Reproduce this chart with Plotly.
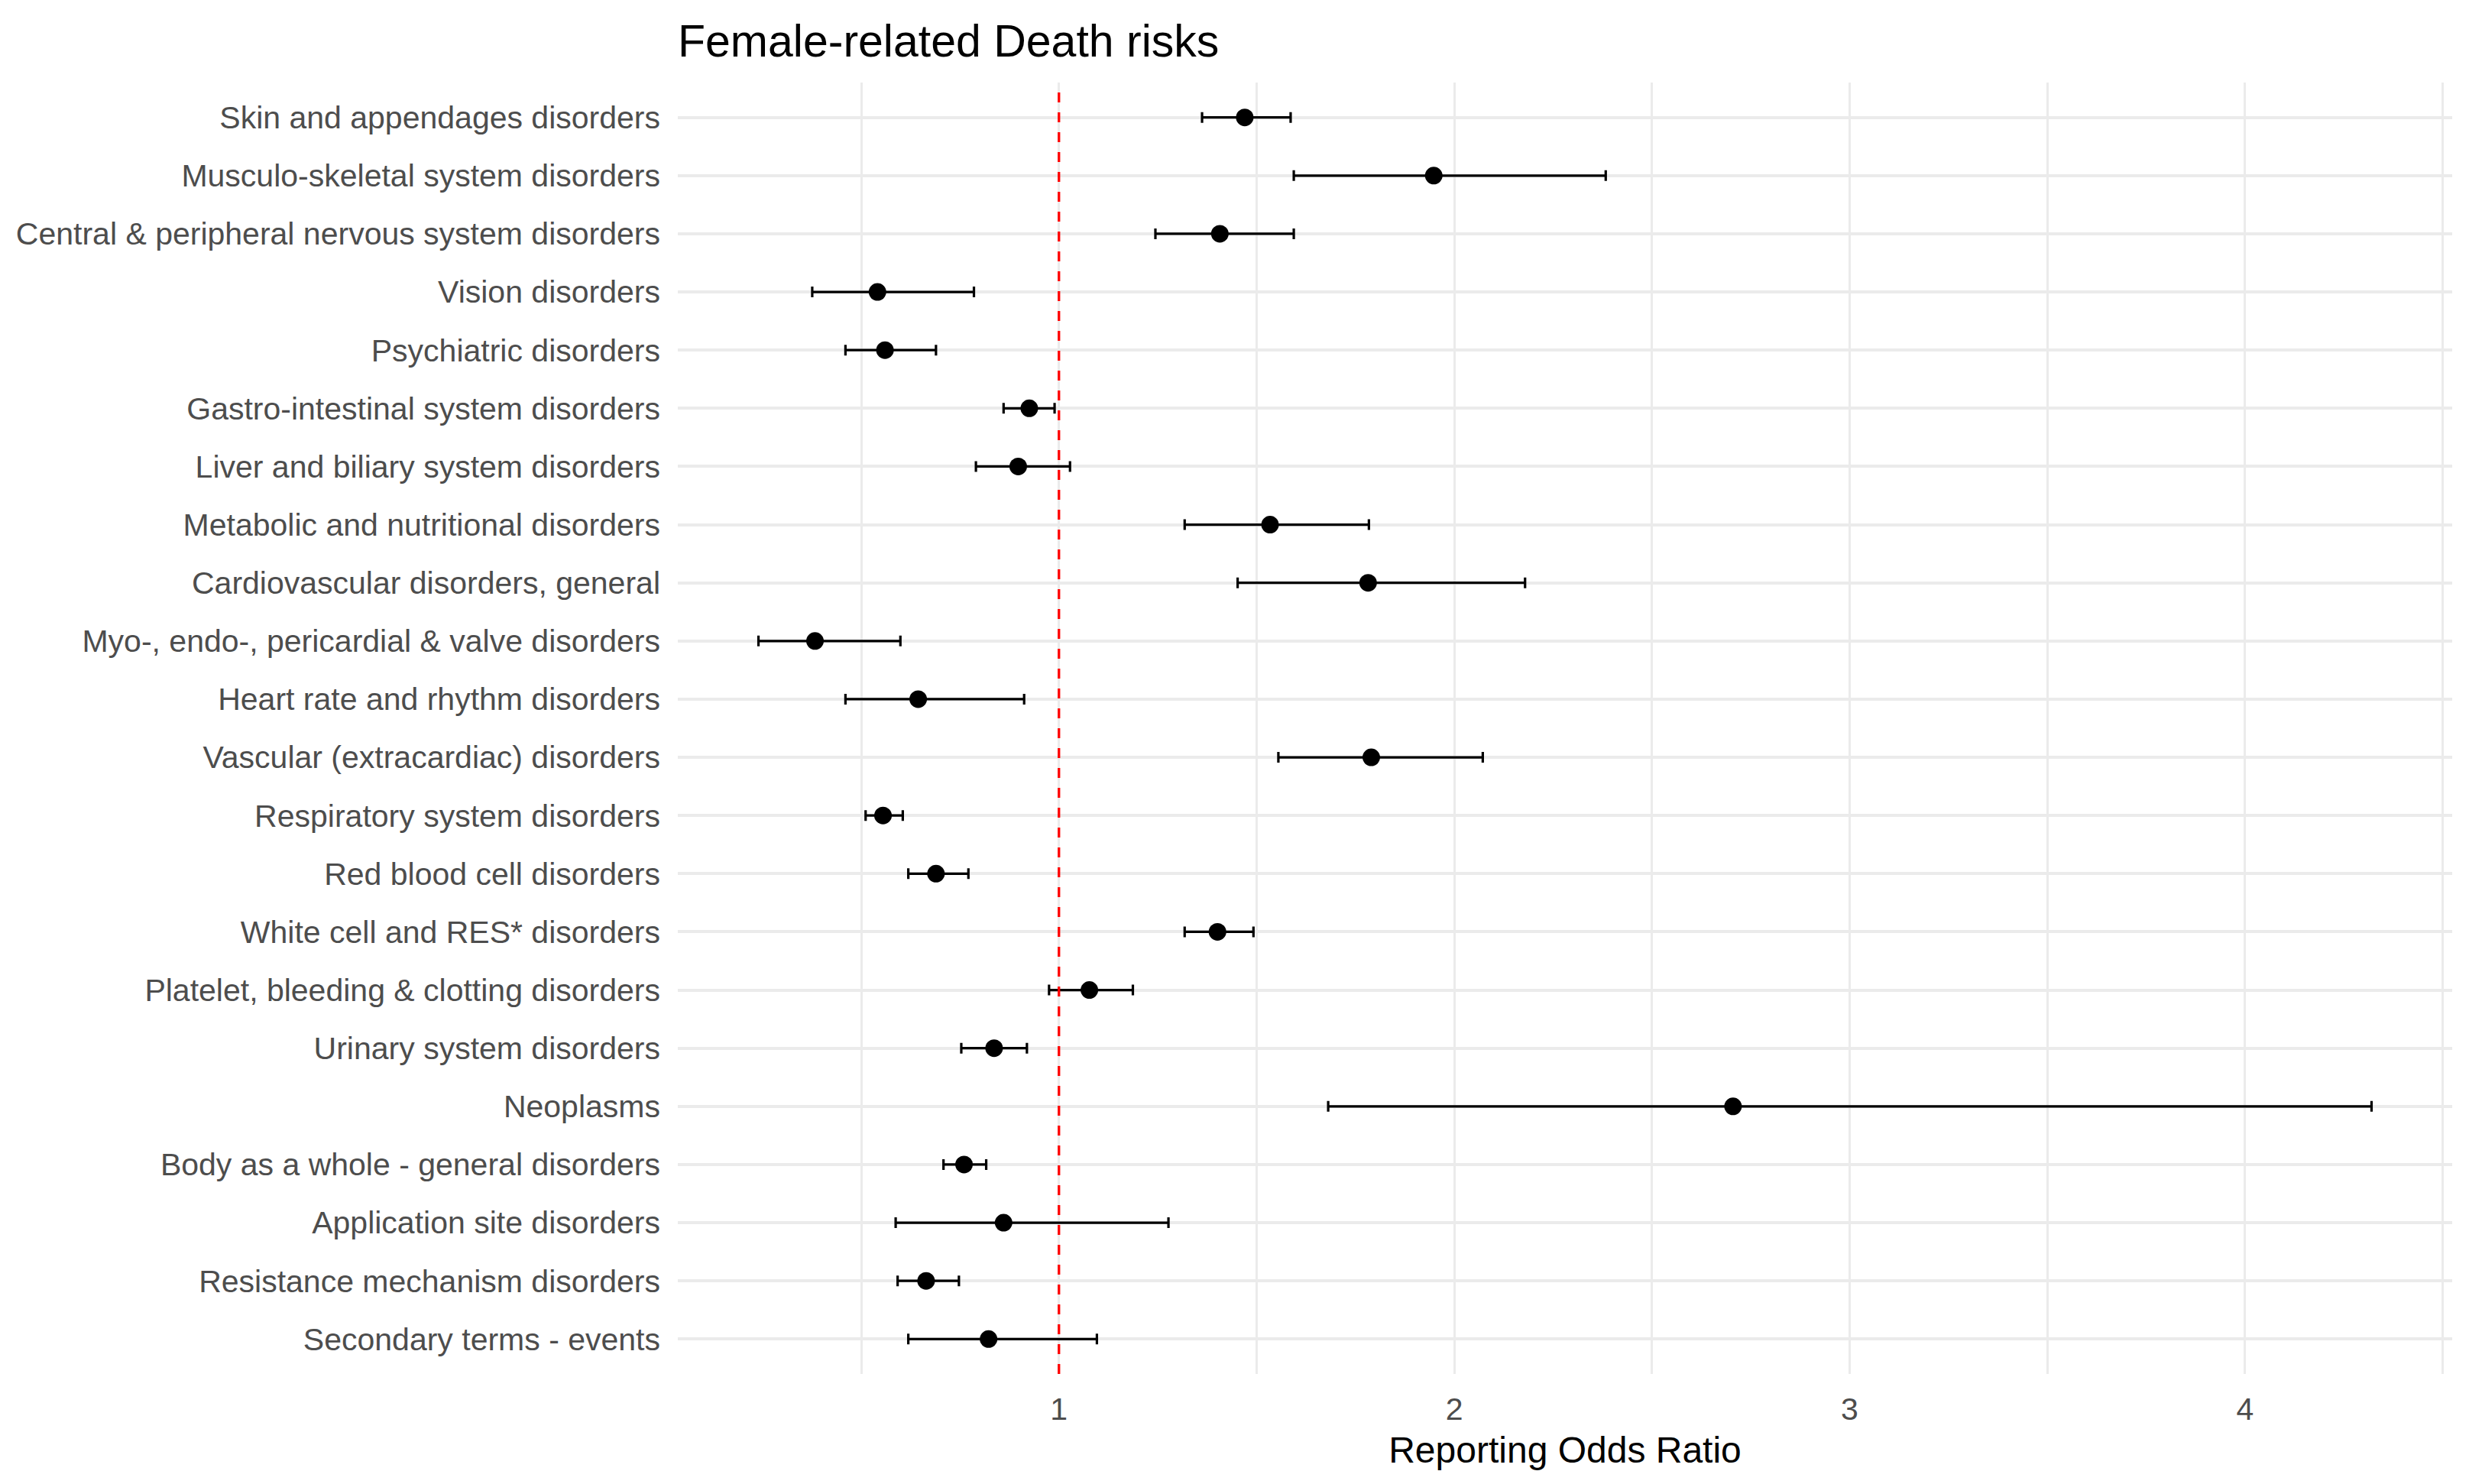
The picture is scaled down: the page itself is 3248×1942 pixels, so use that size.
import numpy as np
import plotly.graph_objects as go

# 数据 (top to bottom)
categories = [
    "Skin and appendages disorders",
    "Musculo-skeletal system disorders",
    "Central & peripheral nervous system disorders",
    "Vision disorders",
    "Psychiatric disorders",
    "Gastro-intestinal system disorders",
    "Liver and biliary system disorders",
    "Metabolic and nutritional disorders",
    "Cardiovascular disorders, general",
    "Myo-, endo-, pericardial & valve disorders",
    "Heart rate and rhythm disorders",
    "Vascular (extracardiac) disorders",
    "Respiratory system disorders",
    "Red blood cell disorders",
    "White cell and RES* disorders",
    "Platelet, bleeding & clotting disorders",
    "Urinary system disorders",
    "Neoplasms",
    "Body as a whole - general disorders",
    "Application site disorders",
    "Resistance mechanism disorders",
    "Secondary terms - events",
]
ror = [1.470, 1.948, 1.407, 0.541, 0.560, 0.925, 0.897, 1.534, 1.782, 0.383, 0.644,
       1.790, 0.555, 0.689, 1.401, 1.077, 0.836, 2.705, 0.760, 0.860, 0.664, 0.822]
ci_low = [1.362, 1.594, 1.244, 0.376, 0.460, 0.860, 0.790, 1.318, 1.452, 0.240, 0.460,
          1.555, 0.511, 0.619, 1.318, 0.975, 0.753, 1.681, 0.708, 0.587, 0.592, 0.619]
ci_high = [1.586, 2.383, 1.594, 0.785, 0.689, 0.989, 1.028, 1.784, 2.179, 0.599, 0.912,
           2.072, 0.605, 0.771, 1.492, 1.187, 0.919, 4.320, 0.816, 1.277, 0.747, 1.096]
x_ticks = [1, 2, 3, 4]
x_minor = [0.5, 1.5, 2.5, 3.5, 4.5]
ref_line = 1

ror_a = np.array(ror)
lo = np.array(ci_low)
hi = np.array(ci_high)

FONT = "Liberation Sans, Arial, sans-serif"

fig = go.Figure()

fig.add_trace(go.Scatter(
    x=ror, y=categories,
    mode="markers",
    marker=dict(color="black", size=23),
    error_x=dict(type="data", symmetric=False,
                 array=hi - ror_a, arrayminus=ror_a - lo,
                 color="black", thickness=3.2, width=7),
    showlegend=False,
))

# 参考线 x = 1
fig.add_shape(type="line", xref="x", yref="paper",
              x0=ref_line, x1=ref_line, y0=0, y1=1,
              line=dict(color="#FF0000", width=3.3, dash="13px,13px"),
              layer="above")

# x 轴范围 (ggplot 5% expansion)
span = hi.max() - lo.min()
x_range = [lo.min() - 0.05 * span, hi.max() + 0.05 * span]
n = len(categories)

fig.update_layout(
    width=3248, height=1942,
    margin=dict(l=887, r=39, t=108, b=144),
    paper_bgcolor="white", plot_bgcolor="white",
    font=dict(family=FONT, size=41, color="#4D4D4D"),
    title=dict(text="Female-related Death risks",
               font=dict(family=FONT, size=59, color="black"),
               x=0, xref="paper", xanchor="left",
               y=1 - 53 / 1942, yref="container", yanchor="middle"),
)

fig.update_xaxes(
    range=x_range, tickvals=x_ticks, showline=False, zeroline=False,
    ticks="", ticklabelstandoff=18,
    tickfont=dict(family=FONT, size=41, color="#4D4D4D"),
    showgrid=True, gridcolor="#EBEBEB", gridwidth=3,
    minor=dict(tickvals=x_minor, showgrid=True, gridcolor="#EBEBEB", gridwidth=2.8),
    title=dict(text="Reporting Odds Ratio", standoff=14,
               font=dict(family=FONT, size=48, color="black")),
)

fig.update_yaxes(
    type="category", categoryorder="array", categoryarray=categories,
    range=[n - 1 + 0.6, -0.6], showline=False, zeroline=False,
    ticks="", ticklabelstandoff=22,
    tickfont=dict(family=FONT, size=41, color="#4D4D4D"),
    showgrid=True, gridcolor="#EBEBEB", gridwidth=3.5,
)

# page body margin off so the figure sits at (0, 0)
fig.write_html("out.html",
               config={"displayModeBar": False},
               post_script="document.body.style.margin='0';document.body.style.overflow='hidden';")
